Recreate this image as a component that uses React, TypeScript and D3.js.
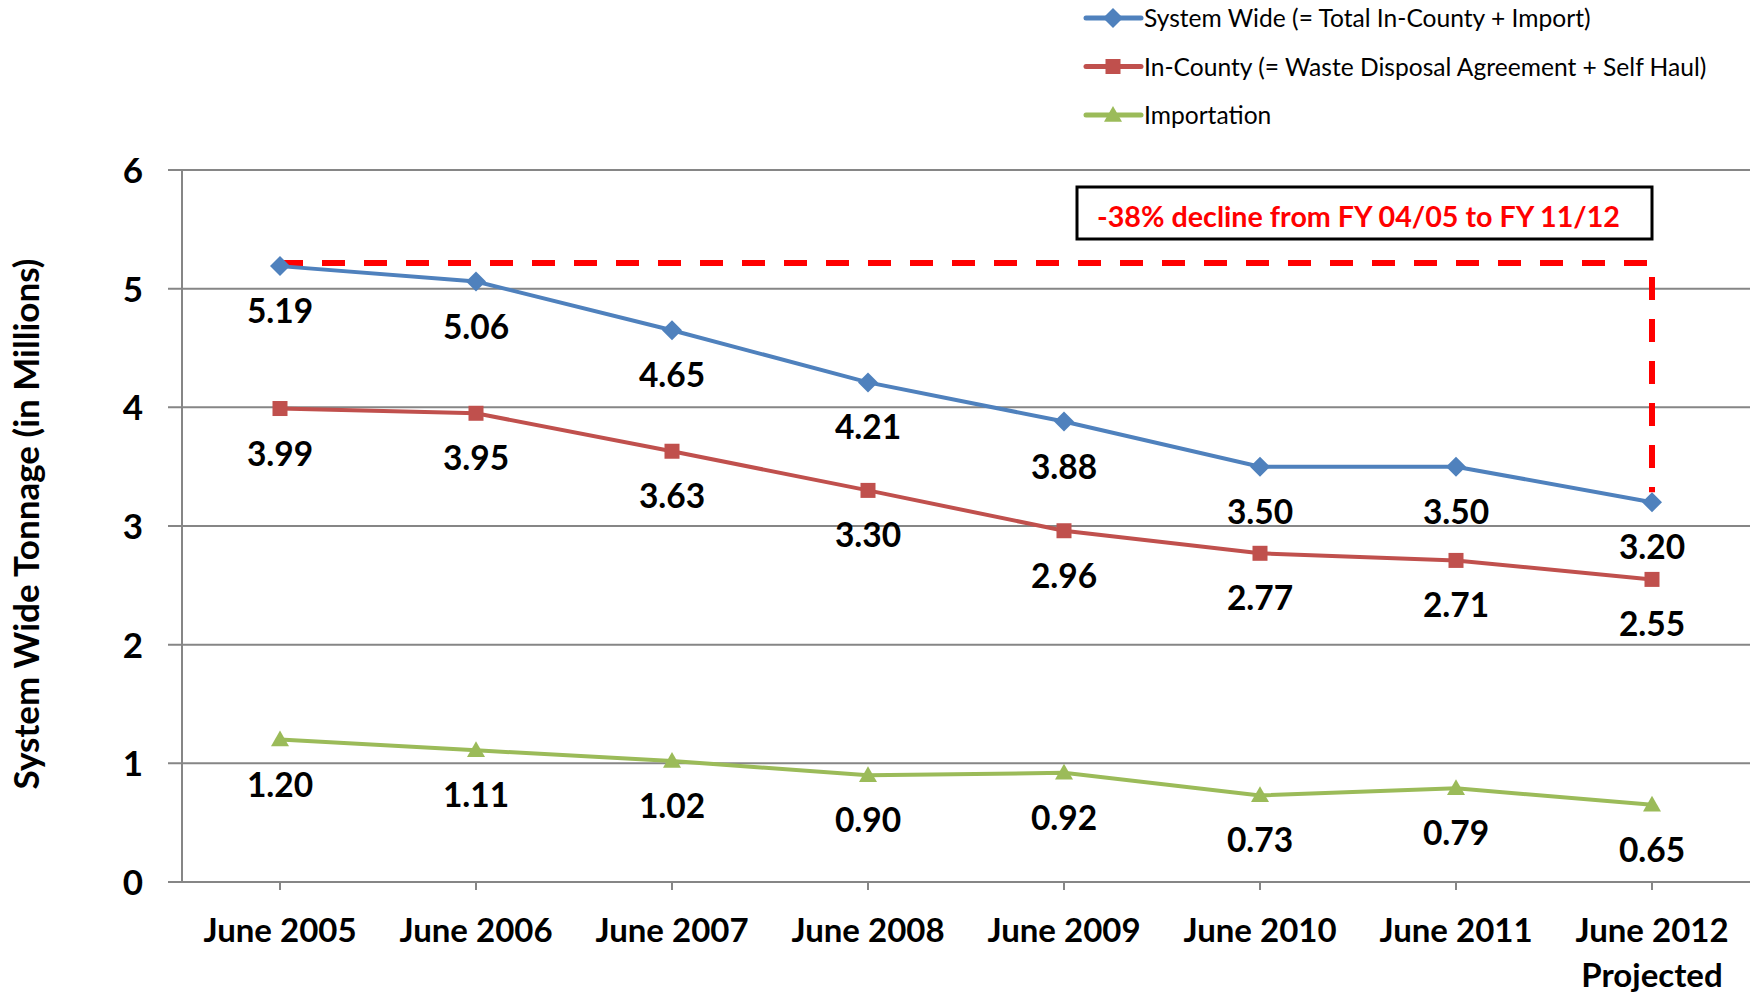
import React from "react";
import * as d3 from "d3";

const categories = ["June 2005", "June 2006", "June 2007", "June 2008", "June 2009", "June 2010", "June 2011", "June 2012"];
const categorySubLabels = ["", "", "", "", "", "", "", "Projected"];
const systemWide = [5.19, 5.06, 4.65, 4.21, 3.88, 3.5, 3.5, 3.2];
const inCounty = [3.99, 3.95, 3.63, 3.3, 2.96, 2.77, 2.71, 2.55];
const importation = [1.2, 1.11, 1.02, 0.9, 0.92, 0.73, 0.79, 0.65];
const yTicks = [0, 1, 2, 3, 4, 5, 6];
const seriesNames = [
  "System Wide (= Total In-County + Import)",
  "In-County (= Waste Disposal Agreement + Self Haul)",
  "Importation",
];
const annotationText = "-38% decline from FY 04/05 to FY 11/12";
const yTitle = "System Wide Tonnage (in Millions)";

const W = 1750;
const H = 994;
const FONT = "Lato, 'Open Sans', sans-serif";

const series = [
  { name: seriesNames[0], values: systemWide, color: "#4F81BD", marker: "diamond" },
  { name: seriesNames[1], values: inCounty, color: "#C0504D", marker: "square" },
  { name: seriesNames[2], values: importation, color: "#9BBB59", marker: "triangle" },
];

function Marker({ type, x, y, color }: { type: string; x: number; y: number; color: string }) {
  if (type === "diamond") {
    const s = 10;
    return <path d={`M${x},${y - s}L${x + s},${y}L${x},${y + s}L${x - s},${y}Z`} fill={color} />;
  }
  if (type === "square") {
    const s = 7.5;
    return <rect x={x - s} y={y - s} width={2 * s} height={2 * s} fill={color} />;
  }
  const s = 9;
  return <path d={`M${x},${y - s}L${x + s},${y + s * 0.75}L${x - s},${y + s * 0.75}Z`} fill={color} />;
}

export default function App() {
  const x = d3.scaleBand<string>().domain(categories).range([182, 1750]);
  const cx = (c: string) => (x(c) as number) + x.bandwidth() / 2;
  const y = d3.scaleLinear().domain([0, 6]).range([882, 170]);
  const line = d3
    .line<number>()
    .x((_, i) => cx(categories[i]))
    .y((d) => y(d));

  const first = cx(categories[0]);
  const last = cx(categories[categories.length - 1]);
  const dashY = y(systemWide[0]) - 3;
  const dashEnd = y(systemWide[systemWide.length - 1]) - 10;
  const boxRight = last;
  const boxLeft = last - 575;
  const boxTop = y(6) + 17;
  const boxH = 52;

  return (
    <svg
      width={W}
      height={H}
      style={{ position: "absolute", left: 0, top: 0, background: "#fff" }}
      fontFamily={FONT}
    >
      {/* gridlines */}
      {yTicks.map((t) => (
        <line key={t} x1={168} x2={W} y1={y(t)} y2={y(t)} stroke="#868686" strokeWidth={2} />
      ))}
      {/* y axis */}
      <line x1={182} x2={182} y1={y(6)} y2={y(0)} stroke="#868686" strokeWidth={2} />
      {/* x ticks */}
      {categories.map((c) => (
        <line key={c} x1={cx(c)} x2={cx(c)} y1={y(0)} y2={y(0) + 8} stroke="#868686" strokeWidth={2} />
      ))}
      {/* y tick labels */}
      {yTicks.map((t) => (
        <text
          key={t}
          x={143}
          y={y(t) + 13}
          textAnchor="end"
          fontSize={35}
          fontWeight="bold"
          fill="#000"
        >
          {t}
        </text>
      ))}
      {/* x labels */}
      {categories.map((c, i) => (
        <g key={c}>
          <text x={cx(c)} y={942} textAnchor="middle" fontSize={33} fontWeight="bold" fill="#000">
            {c}
          </text>
          {categorySubLabels[i] && (
            <text x={cx(c)} y={987} textAnchor="middle" fontSize={33} fontWeight="bold" fill="#000">
              {categorySubLabels[i]}
            </text>
          )}
        </g>
      ))}
      {/* y title */}
      <text
        transform={`translate(39,524) rotate(-90)`}
        textAnchor="middle"
        fontSize={35}
        fontWeight="bold"
        fill="#000"
      >
        {yTitle}
      </text>

      {/* red dashed decline line */}
      <path
        d={`M${first},${dashY}L${last},${dashY}L${last},${dashEnd}`}
        fill="none"
        stroke="#FF0000"
        strokeWidth={6}
        strokeDasharray="23 19"
      />
      {/* annotation box */}
      <rect
        x={boxLeft}
        y={boxTop}
        width={boxRight - boxLeft}
        height={boxH}
        fill="#fff"
        stroke="#000"
        strokeWidth={3}
      />
      <text
        x={boxLeft + 20}
        y={boxTop + 40}
        fontSize={28}
        fontWeight="bold"
        fill="#FF0000"
        textLength={523}
        lengthAdjust="spacingAndGlyphs"
      >
        {annotationText}
      </text>

      {/* series */}
      {series.map((s) => (
        <g key={s.name}>
          <path d={line(s.values) as string} fill="none" stroke={s.color} strokeWidth={4} />
          {s.values.map((v, i) => (
            <Marker key={i} type={s.marker} x={cx(categories[i])} y={y(v)} color={s.color} />
          ))}
          {s.values.map((v, i) => (
            <text
              key={"l" + i}
              x={cx(categories[i])}
              y={y(v) + 57}
              textAnchor="middle"
              fontSize={33.5}
              fontWeight="bold"
              fill="#000"
            >
              {v.toFixed(2)}
            </text>
          ))}
        </g>
      ))}

      {/* legend */}
      {series.map((s, i) => {
        const ly = 18 + i * 48.5;
        return (
          <g key={"lg" + i}>
            <line x1={1086} x2={1141} y1={ly} y2={ly} stroke={s.color} strokeWidth={5} strokeLinecap="round" />
            <Marker type={s.marker} x={1113} y={ly} color={s.color} />
            <text x={1144} y={ly + 9} fontSize={24.6} fill="#000">
              {s.name}
            </text>
          </g>
        );
      })}
    </svg>
  );
}
